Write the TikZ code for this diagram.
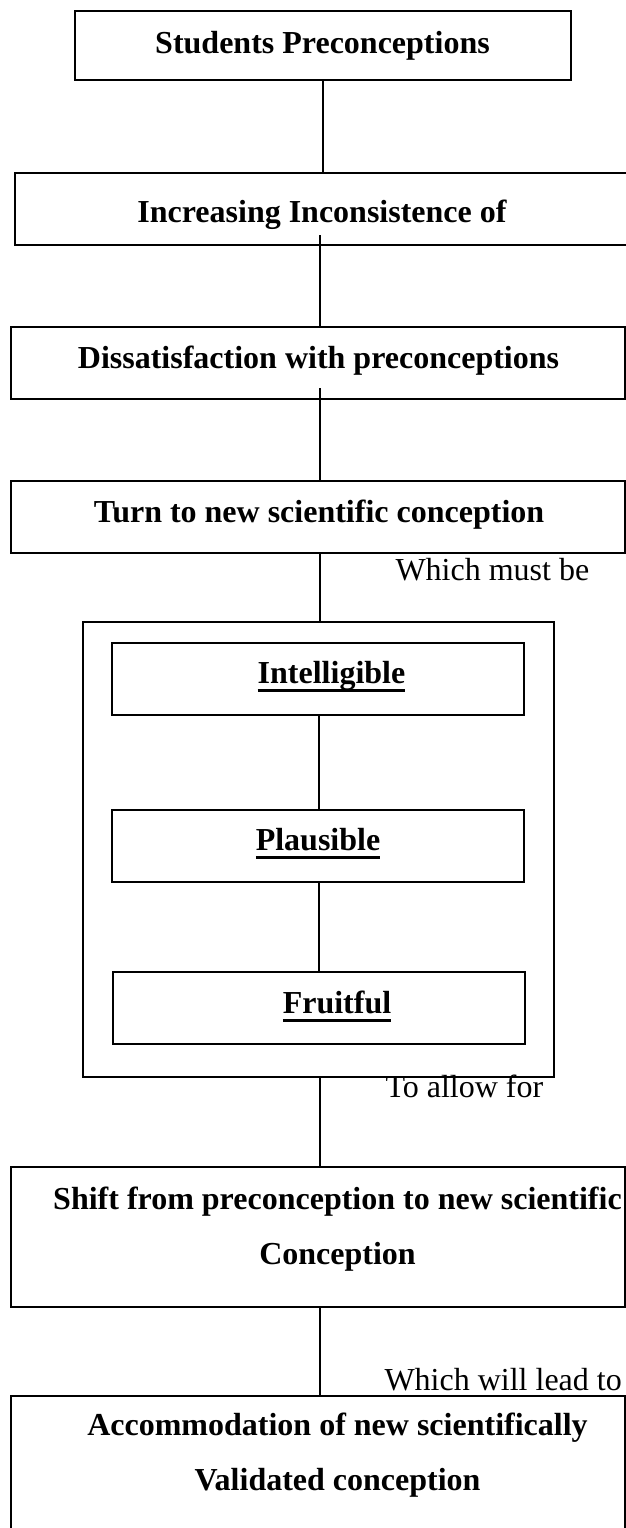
\documentclass[tikz,border=0pt]{standalone}
\usepackage{fontspec}
\setmainfont{Liberation Serif}
\newdimen\PX \PX=0.375pt
\newcommand\myuline[1]{\setbox0=\hbox{#1}\rlap{\rule[-3.2pt]{\wd0}{0.9pt}}\box0}
\begin{document}
\begin{tikzpicture}[x=0.375pt, y=-0.375pt,
  box/.style={draw, line width=0.75pt, inner sep=0pt, rectangle},
  conn/.style={line width=0.65pt},
  btxt/.style={font=\fontsize{12}{20.6}\selectfont\bfseries, inner sep=0pt, anchor=base, align=center},
  ntxt/.style={font=\fontsize{12}{14}\selectfont, inner sep=0pt, anchor=base west}]
\useasboundingbox (0,0) rectangle (626,1528);
\clip (0,0) rectangle (626,1528);
\fill[white] (0,0) rectangle (626,1528);

% boxes
\node[box, minimum width=496\PX, minimum height=69\PX] (b1) at (323,45.5) {};
\node[box, minimum width=625\PX, minimum height=72\PX] (b2) at (327.5,209) {};
\node[box, minimum width=614\PX, minimum height=72\PX] (b3) at (318,363) {};
\node[box, minimum width=614\PX, minimum height=72\PX] (b4) at (318,517) {};
\node[box, minimum width=471\PX, minimum height=455\PX] (outer) at (318.5,849.5) {};
\node[box, minimum width=412\PX, minimum height=72\PX] (i1) at (318,679) {};
\node[box, minimum width=412\PX, minimum height=72\PX] (i2) at (318,846) {};
\node[box, minimum width=412\PX, minimum height=72\PX] (i3) at (318.5,1008) {};
\node[box, minimum width=614\PX, minimum height=140\PX] (b6) at (318,1237) {};
\node[box, minimum width=614\PX, minimum height=164\PX] (b7) at (318,1478) {};

% texts
\node[btxt] (t1) at (322.5,53) {Students Preconceptions};
\node[btxt] (t2) at (322,222) {Increasing Inconsistence of};
\node[btxt] (t3) at (318.5,368) {Dissatisfaction with preconceptions};
\node[btxt] (t4) at (319,522) {Turn to new scientific conception};
\node[btxt] (ti1) at (331.5,683) {\myuline{Intelligible}};
\node[btxt] (ti2) at (318,850) {\myuline{Plausible}};
\node[btxt] (ti3) at (337,1013) {\myuline{Fruitful}};
\node[btxt] (t6) at (337.5,1264) {Shift from preconception to new scientific\\Conception};
\node[btxt] (t7) at (337.5,1490) {Accommodation of new scientifically\\Validated conception};

\node[ntxt] (l1) at (395,580) {Which must be};
\node[ntxt] (l2) at (385,1097) {To allow for};
\node[ntxt] (l3) at (384,1390) {Which will lead to};

% connectors
\coordinate (s2) at (320,235);
\coordinate (s3) at (320,388);
\coordinate (m) at (319,0);
\draw[conn] (b1.south) -- (b1.south |- b2.north);
\draw[conn] (s2) -- (s2 |- b3.north);
\draw[conn] (s3) -- (s3 |- b4.north);
\draw[conn] (s3 |- b4.south) -- (s3 |- outer.north);
\draw[conn] (m |- i1.south) -- (m |- i2.north);
\draw[conn] (m |- i2.south) -- (m |- i3.north);
\draw[conn] (s3 |- outer.south) -- (s3 |- b6.north);
\draw[conn] (s3 |- b6.south) -- (s3 |- b7.north);
\end{tikzpicture}
\end{document}
